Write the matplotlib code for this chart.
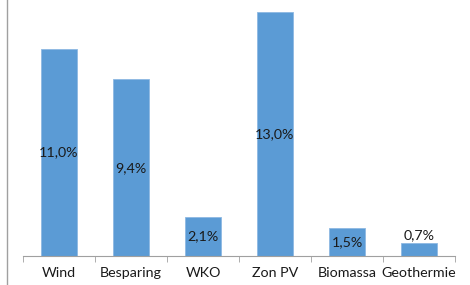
import matplotlib.pyplot as plt
from matplotlib.lines import Line2D

categories = ["Wind", "Besparing", "WKO", "Zon PV", "Biomassa", "Geothermie"]
values = [11.0, 9.4, 2.1, 13.0, 1.5, 0.7]
labels = ["11,0%", "9,4%", "2,1%", "13,0%", "1,5%", "0,7%"]

plt.rcParams['font.family'] = ['Lato', 'DejaVu Sans']

fig = plt.figure(figsize=(4.7, 2.85), dpi=100)
ax = fig.add_axes([23 / 470, 29 / 285, 432 / 470, 256 / 285])

x = list(range(len(categories)))
ax.bar(x, values, width=0.49, color="#5B9BD5", edgecolor="#8DB8E2", linewidth=0.6)
ax.set_xlim(-0.5, len(categories) - 0.5)
ax.set_ylim(0, 13.62)

for xi, v, lab in zip(x, values, labels):
    if v > 1.2:
        ax.text(xi, v / 2, lab, ha="center", va="center", fontsize=10.3, color="#1a1a1a")
    else:
        ax.text(xi, v + 0.1, lab, ha="center", va="bottom", fontsize=10.3, color="#1a1a1a")

for s in ["top", "right", "left"]:
    ax.spines[s].set_visible(False)
ax.spines["bottom"].set_color("#A0A0A0")
ax.set_yticks([])
ax.set_xticks(x)
ax.set_xticklabels(categories, fontsize=10.3, color="#1a1a1a")
ax.tick_params(axis="x", length=0, pad=8)
ax.set_xticks([i - 0.5 for i in range(len(categories) + 1)], minor=True)
ax.tick_params(axis="x", which="minor", length=4, color="#A0A0A0", direction="out")

fig.add_artist(Line2D([7 / 470, 7 / 470], [0, 1], color="#A0A0A0", linewidth=1.0))

fig.savefig("out.png", dpi=100)
